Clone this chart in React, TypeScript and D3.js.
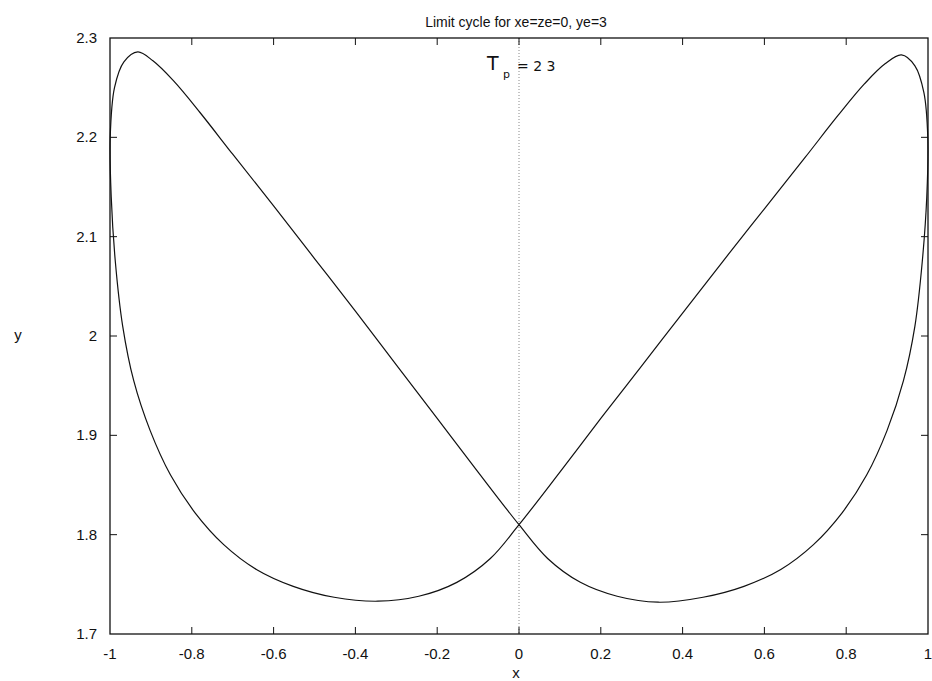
import React from "react";
import * as d3 from "d3";

const title = "Limit cycle for xe=ze=0, ye=3";
const xTicks = [-1, -0.8, -0.6, -0.4, -0.2, 0, 0.2, 0.4, 0.6, 0.8, 1];
const yTicks = [1.7, 1.8, 1.9, 2, 2.1, 2.2, 2.3];

// Right lobe, starting at crossing and going up-right along the inner branch
const rightX = [0, 0.1, 0.2, 0.3, 0.4, 0.5, 0.6, 0.7, 0.78, 0.845, 0.895, 0.935, 0.968, 0.99, 0.9995, 0.997, 0.986, 0.968, 0.94, 0.9, 0.85, 0.79, 0.72, 0.64, 0.55, 0.45, 0.34, 0.24, 0.15, 0.07];
const rightY = [1.81, 1.863, 1.917, 1.97, 2.023, 2.076, 2.128, 2.18, 2.222, 2.254, 2.274, 2.283, 2.272, 2.245, 2.2, 2.14, 2.075, 2.01, 1.955, 1.905, 1.86, 1.822, 1.79, 1.765, 1.748, 1.737, 1.732, 1.738, 1.752, 1.776];
// Left lobe, continuing from crossing up-left along the inner branch
const leftX = [0, -0.1, -0.2, -0.3, -0.4, -0.5, -0.6, -0.7, -0.78, -0.845, -0.895, -0.932, -0.966, -0.989, -0.9995, -0.997, -0.987, -0.969, -0.942, -0.902, -0.852, -0.792, -0.722, -0.642, -0.552, -0.452, -0.345, -0.245, -0.152, -0.07];
const leftY = [1.81, 1.863, 1.917, 1.971, 2.025, 2.078, 2.131, 2.183, 2.225, 2.257, 2.277, 2.286, 2.276, 2.25, 2.2, 2.14, 2.075, 2.01, 1.955, 1.905, 1.86, 1.822, 1.79, 1.765, 1.748, 1.737, 1.733, 1.738, 1.752, 1.776];

const W = 932, H = 681;
const L = 110, R = 928, T = 38, B = 634;
const font = "'Liberation Sans', Arial, Helvetica, sans-serif";

export default function App() {
  const x = d3.scaleLinear().domain([-1, 1]).range([L, R]);
  const y = d3.scaleLinear().domain([1.7, 2.3]).range([B, T]);
  const pts: [number, number][] = [];
  rightX.forEach((v, i) => pts.push([v, rightY[i]]));
  leftX.forEach((v, i) => pts.push([v, leftY[i]]));
  const line = d3.line<[number, number]>()
    .x(d => x(d[0]))
    .y(d => y(d[1]))
    .curve(d3.curveCatmullRomClosed.alpha(0.5));
  const tl = 7;
  const fmt = (v: number) => String(Math.round(v * 10) / 10);
  return (
    <svg width={W} height={H} style={{ position: "absolute", left: 0, top: 0, background: "#fff" }} fontFamily={font}>
      <rect x={0} y={0} width={W} height={H} fill="#fff" />
      <text x={516} y={27} textAnchor="middle" fontSize={14} fill="#111">{title}</text>
      {/* zero line */}
      <line x1={x(0)} x2={x(0)} y1={T} y2={B} stroke="#888" strokeWidth={1} strokeDasharray="1,2" />
      {/* ticks */}
      {xTicks.map((t, i) => (
        <g key={"xt" + i}>
          {i > 0 && i < xTicks.length - 1 && (
            <>
              <line x1={x(t)} x2={x(t)} y1={B} y2={B - tl} stroke="#111" strokeWidth={1} />
              <line x1={x(t)} x2={x(t)} y1={T} y2={T + tl} stroke="#111" strokeWidth={1} />
            </>
          )}
          <text x={x(t)} y={B + 25} textAnchor="middle" fontSize={15} fill="#111">{fmt(t)}</text>
        </g>
      ))}
      {yTicks.map((t, i) => (
        <g key={"yt" + i}>
          {i > 0 && i < yTicks.length - 1 && (
            <>
              <line x1={L} x2={L + tl} y1={y(t)} y2={y(t)} stroke="#111" strokeWidth={1} />
              <line x1={R} x2={R - tl} y1={y(t)} y2={y(t)} stroke="#111" strokeWidth={1} />
            </>
          )}
          <text x={97} y={y(t) + 5} textAnchor="end" fontSize={15} fill="#111">{fmt(t)}</text>
        </g>
      ))}
      <rect x={L} y={T} width={R - L} height={B - T} fill="none" stroke="#111" strokeWidth={1.3} />
      <path d={line(pts) || ""} fill="none" stroke="#111" strokeWidth={1.2} />
      <text x={516} y={678} textAnchor="middle" fontSize={15} fill="#111">x</text>
      <text x={18} y={(T + B) / 2 + 4} textAnchor="middle" fontSize={15} fill="#111">y</text>
      {/* handwritten annotation */}
      <g fontFamily="'DejaVu Sans', sans-serif" fill="#111">
        <text x={487} y={70} fontSize={19}>T</text>
        <text x={503} y={78} fontSize={11}>p</text>
        <text x={517} y={71} fontSize={14}>= 2 3</text>
      </g>
    </svg>
  );
}
